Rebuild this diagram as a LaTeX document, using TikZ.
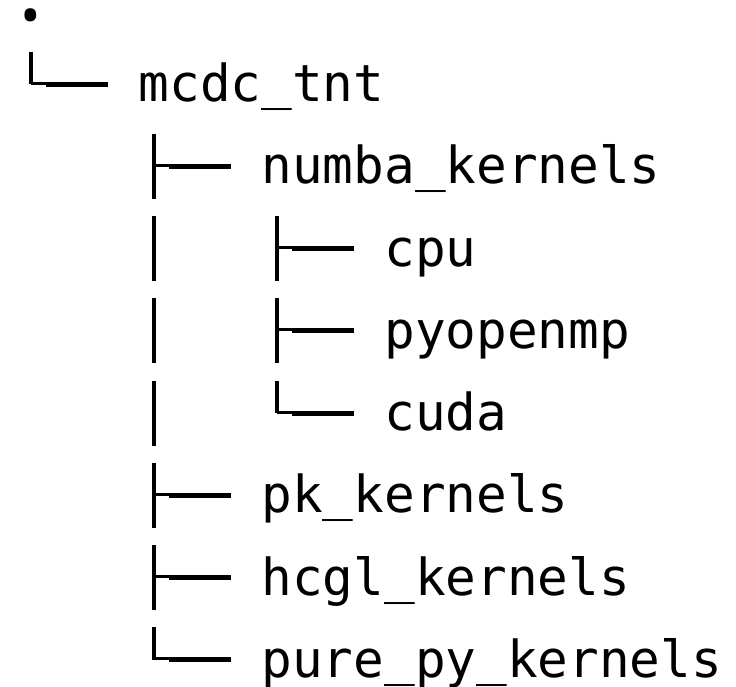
\documentclass[tikz,border=0pt]{standalone}
\usepackage{fontspec}
\setmonofont{DejaVu Sans Mono}
\newfontfamily\dotfont{Open Sans}
\usetikzlibrary{calc}

% underscore set a little higher than the font's own
\newcommand\us{\raisebox{3pt}{\_}}

% Box-drawing glyphs of a directory tree, drawn as strokes.
% Each takes the name of the entry's text node; the junction sits
% 107.5 units left of the text and 17.5 units above its baseline.
\newcommand\treeTee[1]{%
  \path (#1.base west) ++(-107.5,-17.5) coordinate (#1-j);
  \draw[stem] (#1-j) ++(0,-32.5) -- ++(0,65);
  \draw[stub] ([yshift=1pt]#1-j) -- ++(15.4,0);
  \draw[arm]  ([xshift=15.4pt]#1-j) -- ++(61.6,0);
}
\newcommand\treeEll[1]{%
  \path (#1.base west) ++(-107.5,-17.5) coordinate (#1-j);
  \draw[stem] (#1-j) ++(0,-32.5) -- (#1-j);
  \draw[stub] ([yshift=1pt]#1-j) -- ++(15.4,0);
  \draw[arm]  ([xshift=15.4pt]#1-j) -- ++(61.6,0);
}
% Continuation bar of the parent level, to the left of an entry
\newcommand\treeBar[1]{%
  \path (#1.base west) ++(-230.3,-17.5) coordinate (#1-b);
  \draw[stem] (#1-b) ++(0,-32.5) -- ++(0,65);
}

\begin{document}
\begin{tikzpicture}[x=1pt,y=-1pt,
  entry/.style={anchor=base west,inner sep=0pt,
    font=\ttfamily\fontsize{51}{60}\selectfont},
  stem/.style={line width=4pt},
  stub/.style={line width=3pt},
  arm/.style={line width=5pt}]
\useasboundingbox (0,0) rectangle (736,687);

% entries: one row every 82.2 units, one level every 122.8 units
\node[anchor=base,inner sep=0pt,font=\dotfont\fontsize{100}{110}\selectfont]
  (root) at (31,21) {.};
\node[entry] (mcdc)   at (138.5,101.8) {mcdc\us tnt};
\node[entry] (numba)  at (261.3,184.0) {numba\us kernels};
\node[entry] (cpu)    at (384.1,266.2) {cpu};
\node[entry] (omp)    at (384.1,348.4) {pyopenmp};
\node[entry] (cuda)   at (384.1,430.6) {cuda};
\node[entry] (pk)     at (261.3,512.8) {pk\us kernels};
\node[entry] (hcgl)   at (261.3,595.0) {hcgl\us kernels};
\node[entry] (purepy) at (261.3,677.2) {pure\us py\us kernels};

% branches
\treeEll{mcdc}
\treeTee{numba}
\treeTee{cpu}   \treeBar{cpu}
\treeTee{omp}   \treeBar{omp}
\treeEll{cuda}  \treeBar{cuda}
\treeTee{pk}
\treeTee{hcgl}
\treeEll{purepy}
\end{tikzpicture}
\end{document}
